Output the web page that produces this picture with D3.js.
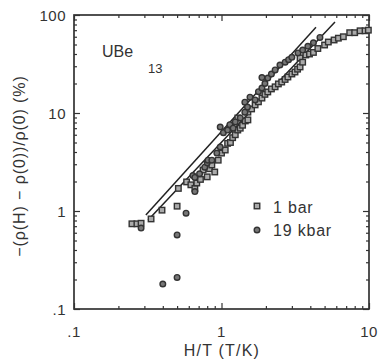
<!DOCTYPE html>
<html><head><meta charset="utf-8">
<script src="https://cdn.jsdelivr.net/npm/d3@7"></script>
<style>
body{margin:0;background:#fff;}
text{font-family:Arial,"Liberation Sans",Helvetica,sans-serif;fill:#333;}
</style></head>
<body>
<svg id="c" width="381" height="360"></svg>
<script>
// ---- data ----
const xTickLabels = [[0.1, ".1"], [1, "1"], [10, "10"]];
const yTickLabels = [[0.1, ".1"], [1, "1"], [10, "10"], [100, "100"]];
const seriesNames = ["1 bar", "19 kbar"];
// 1 bar (squares)
const bar1X = [0.247,0.267,0.285,0.333,0.395,0.50,0.51,0.58,0.62,0.66,0.68,0.72,0.75,0.80,0.83,0.86,0.90,0.95,1.00,1.06,1.10,1.15,1.19,1.24,1.29,1.29,1.34,1.39,1.45,1.51,1.51,1.60,1.69,1.78,1.88,1.97,2.06,2.18,2.31,2.43,2.56,2.70,2.82,3.0,3.15,3.28,3.41,3.41,3.55,3.73,3.95,4.2,4.5,5.0,5.3,5.8,6.2,6.7,7.4,8.0,8.7,9.4,9.9];
const bar1Y = [0.74,0.74,0.75,0.83,1.02,1.12,1.70,1.98,1.85,1.70,1.93,2.1,2.62,2.23,2.7,2.95,2.5,3.3,3.9,4.19,4.9,5.0,5.6,6.0,6.7,8.9,7.0,7.5,8.3,10.2,8.5,11.0,12.1,13.0,14.2,15.5,16.4,17.6,18.5,19.8,20.7,22.0,23.3,25.0,26.2,28.0,29.5,36.5,33.0,39.1,40.0,41.5,45.5,49.4,53,55.6,58,60,66,66,69,69,70];
// 19 kbar (circles)
const kbarX = [0.285,0.575,0.50,0.40,0.50,0.64,0.66,0.66,0.71,0.77,0.80,0.81,0.86,0.93,0.98,0.98,1.03,1.10,1.14,1.20,1.24,1.34,1.44,1.44,1.50,1.56,1.69,1.78,1.88,1.88,1.97,2.06,2.18,2.31,2.49,2.70,2.85,3.0,3.3,3.55,3.85,4.2,4.65];
const kbarY = [0.67,0.95,0.57,0.18,0.21,2.3,1.58,2.2,2.4,2.8,3.1,3.3,3.3,3.9,4.5,7.2,6.3,6.7,7.6,7.0,8.1,8.9,10.2,12.9,11.5,14.5,13.6,16.5,23,18,20,22.7,25,27.5,30.9,33,35,37,41,43.9,48,52,59];
// fitted straight lines (endpoints)
const line1X = [0.307, 4.37], line1Y = [0.91, 75];
const line2X = [0.318, 5.88], line2Y = [0.81, 85];

// ---- chart ----
const svg = d3.select("#c");
const x = d3.scaleLog().domain([0.1, 10]).range([74, 369]);
const y = d3.scaleLog().domain([0.1, 100]).range([309, 15]);
const ink = "#333";

function minorVals(lo, hi) {
  const v = [];
  for (let p = lo; p < hi; p++) for (let m = 2; m <= 9; m++) v.push(m * Math.pow(10, p));
  return v;
}
const xMinor = minorVals(-1, 1), yMinor = minorVals(-1, 2);
const xMajor = xTickLabels.map(d => d[0]), yMajor = yTickLabels.map(d => d[0]);

function drawAxis(axisFn, scale, vals, size, transform) {
  const g = svg.append("g").attr("transform", transform)
    .call(axisFn(scale).tickValues(vals).tickSize(size).tickFormat(""));
  g.select(".domain").remove();
  g.selectAll("line").attr("stroke", ink).attr("stroke-width", 1.2);
}
drawAxis(d3.axisBottom, x, xMajor, -6, `translate(0,${y.range()[0]})`);
drawAxis(d3.axisBottom, x, xMinor, -3, `translate(0,${y.range()[0]})`);
drawAxis(d3.axisTop, x, xMajor, -6, `translate(0,${y.range()[1]})`);
drawAxis(d3.axisTop, x, xMinor, -3, `translate(0,${y.range()[1]})`);
drawAxis(d3.axisLeft, y, yMajor, -6, `translate(${x.range()[0]},0)`);
drawAxis(d3.axisLeft, y, yMinor, -3, `translate(${x.range()[0]},0)`);
drawAxis(d3.axisRight, y, yMajor, -6, `translate(${x.range()[1]},0)`);
drawAxis(d3.axisRight, y, yMinor, -3, `translate(${x.range()[1]},0)`);

// frame
svg.append("rect").attr("x", x.range()[0]).attr("y", y.range()[1])
  .attr("width", x.range()[1] - x.range()[0]).attr("height", y.range()[0] - y.range()[1])
  .attr("fill", "none").attr("stroke", ink).attr("stroke-width", 1.7);

// tick labels
svg.append("g").selectAll("text").data(xTickLabels).join("text")
  .attr("x", d => x(d[0])).attr("y", 337).attr("text-anchor", "middle")
  .attr("font-size", 15).attr("letter-spacing", 0.5).text(d => d[1]);
svg.append("g").selectAll("text").data(yTickLabels).join("text")
  .attr("x", 66).attr("y", d => y(d[0]) + 6).attr("text-anchor", "end")
  .attr("font-size", 15).attr("letter-spacing", 0.5).text(d => d[1]);

// axis titles
svg.append("text").attr("x", 222).attr("y", 356).attr("text-anchor", "middle")
  .attr("font-size", 16).attr("letter-spacing", 1.2).text("H/T (T/K)");
svg.append("text").attr("transform", "translate(25,166) rotate(-90)")
  .attr("text-anchor", "middle").attr("font-size", 16).attr("letter-spacing", 0.9)
  .text("\u2212(\u03c1(H) \u2212 \u03c1(0))/\u03c1(0) (%)");

// fitted lines
const lineGen = d3.line().x(d => x(d[0])).y(d => y(d[1]));
[[line1X, line1Y], [line2X, line2Y]].forEach(([lx, ly]) => {
  svg.append("path").datum(lx.map((v, i) => [v, ly[i]]))
    .attr("d", lineGen).attr("fill", "none").attr("stroke", "#222").attr("stroke-width", 1.5);
});

// series
const squares = bar1X.map((v, i) => [v, bar1Y[i]]);
const circles = kbarX.map((v, i) => [v, kbarY[i]]);
const s = 5.5;
svg.append("g").selectAll("rect").data(squares).join("rect")
  .attr("x", d => x(d[0]) - s / 2).attr("y", d => y(d[1]) - s / 2)
  .attr("width", s).attr("height", s)
  .attr("fill", "#aaa").attr("stroke", "#333").attr("stroke-width", 1.4);
svg.append("g").selectAll("circle").data(circles).join("circle")
  .attr("cx", d => x(d[0])).attr("cy", d => y(d[1])).attr("r", 2.8)
  .attr("fill", "#777").attr("stroke", "#333").attr("stroke-width", 1.4);

// labels
const lbl = svg.append("text").attr("x", 102).attr("y", 57).attr("font-size", 16);
lbl.append("tspan").text("UBe");
lbl.append("tspan").attr("x", 148).attr("y", 73).attr("font-size", 13).text("13");

// legend
const legend = svg.append("g");
legend.append("rect").attr("x", 257 - s / 2).attr("y", 206 - s / 2).attr("width", s).attr("height", s)
  .attr("fill", "#aaa").attr("stroke", "#333").attr("stroke-width", 1.4);
legend.append("circle").attr("cx", 257).attr("cy", 230).attr("r", 2.8)
  .attr("fill", "#777").attr("stroke", "#333").attr("stroke-width", 1.4);
legend.selectAll("text.l").data(seriesNames).join("text").attr("class", "l")
  .attr("x", 273).attr("y", (d, i) => 213 + i * 23).attr("font-size", 16)
  .attr("letter-spacing", 0.8).text(d => d);
</script>
</body></html>
